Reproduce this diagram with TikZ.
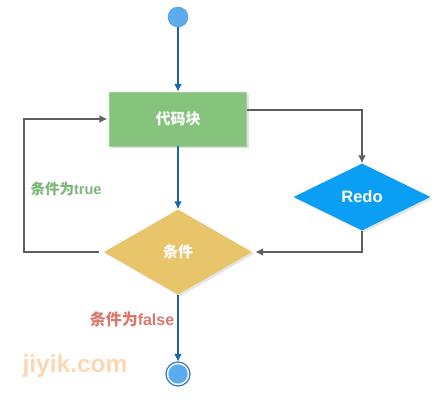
\documentclass[tikz,border=0pt]{standalone}
\usepackage{fontspec}
\setmainfont{Liberation Sans}
\newfontfamily\cjk{Noto Sans CJK SC}
\usetikzlibrary{shapes.geometric,shadows,positioning,arrows.meta}
\definecolor{startblue}{HTML}{5AACEF}
\definecolor{flowblue}{HTML}{1A66B5}
\definecolor{boxgreen}{HTML}{86C37C}
\definecolor{condyellow}{HTML}{E8C46A}
\definecolor{redoblue}{HTML}{0A9EF5}
\definecolor{linegray}{HTML}{5E5E5E}
\definecolor{truegreen}{HTML}{7DB578}
\definecolor{falsered}{HTML}{D9796C}
\definecolor{markorange}{HTML}{FDD7B4}
\tikzset{
  flow/.style={draw=flowblue, line width=1.7pt, -{Latex[length=8pt,width=8pt]}},
  loop/.style={draw=linegray, line width=1.7pt, -{Latex[length=8pt,width=8pt]}},
  codebox/.style={rectangle, fill=boxgreen, draw=boxgreen!80!white, minimum width=137pt, minimum height=54pt, inner sep=0pt, drop shadow={opacity=0.25, shadow xshift=2pt, shadow yshift=-2pt}, text=white, font=\cjk\bfseries\fontsize{15}{17}\selectfont},
  choice/.style={diamond, inner sep=0pt, drop shadow={opacity=0.2, shadow xshift=2pt, shadow yshift=-2pt}, text=white, font=\bfseries\fontsize{15}{17}\selectfont},
}
\begin{document}
\begin{tikzpicture}[x=1pt, y=-1pt]
  \useasboundingbox[fill=white] (0,0) rectangle (441,415);

  % start and end
  \node[circle, fill=startblue, draw=startblue!85!black, line width=0.4pt, minimum size=20pt, inner sep=0pt] (start) at (178,17) {};
  \node[circle, fill=startblue, draw=white, line width=1.4pt, minimum size=21pt, inner sep=0pt] (stop) at (178,374) {};
  \draw[flowblue!90, line width=1.2pt] (stop) circle (12pt);

  % blocks
  \node[codebox] (code) at (178,119) {代码块};
  \node[choice, fill=condyellow, minimum width=148pt, minimum height=85pt] (cond) at (178,252) {\cjk 条件};
  \node[choice, fill=redoblue, minimum width=137pt, minimum height=67pt, font=\bfseries\fontsize{16.5}{18}\selectfont] (redo) at (362,197) {Redo};

  % corners
  \coordinate (rtop) at (362,110);
  \coordinate (lbot) at (24,252);
  \coordinate (ltop) at (24,119);

  % connectors
  \draw[flow] (start) -- (code);
  \draw[flow] (code) -- (cond);
  \draw[flow] (cond) -- ([yshift=1pt]stop.north);
  \draw[loop] (code.east |- rtop) -- (rtop) -- (redo.north);
  \draw[loop] (redo.south) |- ([xshift=3pt]cond.east);
  \draw[loop] ([xshift=-5pt]cond.west) -- (lbot) -- (ltop) -- ([xshift=-2pt]code.west);

  % labels
  \node[text=truegreen, font=\bfseries\fontsize{14.5}{16}\selectfont] (truelbl) at (66,189) {{\cjk 条件为}true};
  \node[text=falsered, font=\bfseries\fontsize{16}{18}\selectfont] (falselbl) at (132,319) {{\cjk 条件为}false};
  \node[text=markorange, font=\bfseries\fontsize{24.5}{26}\selectfont] (mark) at (75,366) {jiyik.com};
\end{tikzpicture}
\end{document}
